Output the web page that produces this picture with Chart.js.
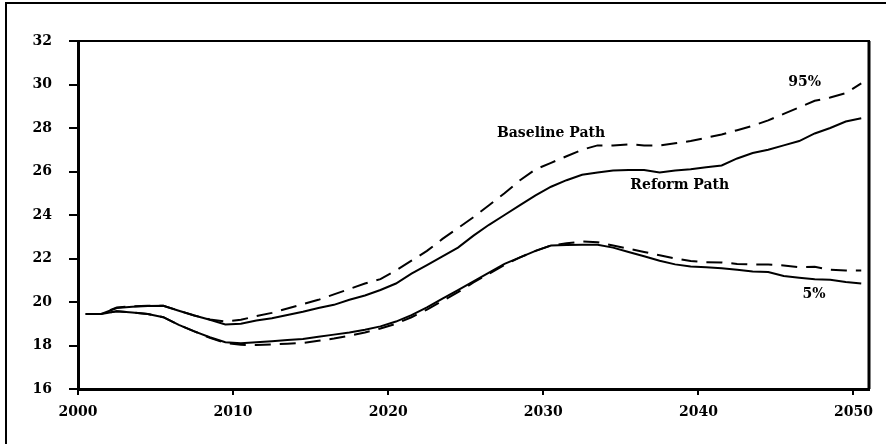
<!DOCTYPE html>
<html>
<head>
<meta charset="utf-8">
<title>Baseline and Reform Paths</title>
<script src="https://cdn.jsdelivr.net/npm/chart.js@4.4.0/dist/chart.umd.min.js"></script>
<style>
  html, body { margin: 0; padding: 0; background: #fff; }
  #wrap { width: 886px; height: 444px; position: relative; }
</style>
</head>
<body>
<div id="wrap"><canvas id="myChart"></canvas></div>
<script>
// Années (valeurs tracées en milieu d'année)
const years = [
  2000, 2001, 2002, 2003, 2004, 2005, 2006, 2007, 2008, 2009,
  2010, 2011, 2012, 2013, 2014, 2015, 2016, 2017, 2018, 2019,
  2020, 2021, 2022, 2023, 2024, 2025, 2026, 2027, 2028, 2029,
  2030, 2031, 2032, 2033, 2034, 2035, 2036, 2037, 2038, 2039,
  2040, 2041, 2042, 2043, 2044, 2045, 2046, 2047, 2048, 2049,
  2050
];

// Chemin de base, 95% (tirets, en haut)
const baseline95 = [
  19.45, 19.45, 19.75, 19.80, 19.83, 19.83, 19.60, 19.38, 19.20, 19.10,
  19.18, 19.35, 19.50, 19.70, 19.90, 20.10, 20.35, 20.60, 20.85, 21.05,
  21.45, 21.90, 22.35, 22.90, 23.40, 23.90, 24.45, 25.00, 25.60, 26.10,
  26.40, 26.70, 27.00, 27.20, 27.20, 27.25, 27.20, 27.20, 27.30, 27.40,
  27.55, 27.70, 27.90, 28.10, 28.35, 28.65, 28.95, 29.25, 29.40, 29.60,
  30.05
];

// Chemin de réforme, 95% (trait plein, en haut)
const reform95 = [
  19.45, 19.45, 19.72, 19.78, 19.82, 19.83, 19.60, 19.38, 19.18, 18.97,
  19.00, 19.15, 19.25, 19.40, 19.55, 19.72, 19.87, 20.10, 20.30, 20.55,
  20.85, 21.30, 21.70, 22.10, 22.50, 23.05, 23.55, 24.00, 24.45, 24.90,
  25.30, 25.60, 25.85, 25.95, 26.05, 26.07, 26.07, 25.95, 26.05, 26.10,
  26.20, 26.28, 26.60, 26.85, 27.00, 27.20, 27.40, 27.75, 28.00, 28.30,
  28.45
];

// Chemin de base, 5% (tirets, en bas)
const baseline5 = [
  19.45, 19.45, 19.57, 19.52, 19.45, 19.30, 18.95, 18.65, 18.35, 18.12,
  18.03, 18.02, 18.05, 18.08, 18.12, 18.22, 18.32, 18.45, 18.60, 18.78,
  19.00, 19.30, 19.65, 20.05, 20.45, 20.90, 21.30, 21.70, 22.05, 22.35,
  22.60, 22.70, 22.78, 22.75, 22.60, 22.45, 22.30, 22.15, 22.00, 21.88,
  21.83, 21.82, 21.75, 21.72, 21.72, 21.68, 21.60, 21.62, 21.48, 21.45,
  21.45
];

// Chemin de réforme, 5% (trait plein, en bas)
const reform5 = [
  19.45, 19.45, 19.57, 19.52, 19.45, 19.30, 18.95, 18.65, 18.38, 18.15,
  18.10, 18.15, 18.20, 18.25, 18.30, 18.40, 18.50, 18.60, 18.72, 18.88,
  19.10, 19.40, 19.75, 20.15, 20.55, 20.95, 21.35, 21.75, 22.05, 22.35,
  22.60, 22.62, 22.63, 22.63, 22.50, 22.30, 22.10, 21.90, 21.73, 21.63,
  21.60, 21.55, 21.48, 21.40, 21.38, 21.20, 21.12, 21.05, 21.02, 20.92,
  20.85
];

// Graduations
const xTicks = [2000, 2010, 2020, 2030, 2040, 2050];
const yTicks = [16, 18, 20, 22, 24, 26, 28, 30, 32];

// Étiquettes sur le graphique
const notes = [
  { text: 'Baseline Path', x: 2030.5, y: 27.6 },
  { text: 'Reform Path', x: 2038.8, y: 25.2 },
  { text: '95%', x: 2046.85, y: 29.93 },
  { text: '5%', x: 2047.45, y: 20.17 }
];

const midYear = 0.5;
const toPoints = (vals) => vals.map((v, i) => ({ x: years[i] + midYear, y: v }));

const FONT = { family: '"DejaVu Serif", "Liberation Serif", serif', size: 14, weight: 'bold' };

// Cadre du graphique et bordure extérieure
const framePlugin = {
  id: 'frame',
  afterDraw(chart) {
    const { ctx, chartArea: a } = chart;
    ctx.save();
    ctx.strokeStyle = '#000';
    ctx.lineWidth = 2;
    ctx.beginPath();
    ctx.moveTo(a.left, a.top);
    ctx.lineTo(a.right + 1, a.top);
    ctx.stroke();
    ctx.lineWidth = 3;
    ctx.beginPath();
    ctx.moveTo(a.right, a.top);
    ctx.lineTo(a.right, a.bottom);
    ctx.stroke();
    ctx.lineWidth = 2;
    ctx.strokeRect(6, 3, chart.width + 20, chart.height + 20);
    ctx.restore();
  }
};

// Texte des courbes
const notesPlugin = {
  id: 'notes',
  afterDatasetsDraw(chart) {
    const { ctx, scales } = chart;
    ctx.save();
    ctx.fillStyle = '#000';
    ctx.font = `${FONT.weight} ${FONT.size}px ${FONT.family}`;
    ctx.textAlign = 'center';
    ctx.textBaseline = 'alphabetic';
    notes.forEach(n => {
      ctx.fillText(n.text, scales.x.getPixelForValue(n.x), scales.y.getPixelForValue(n.y));
    });
    ctx.restore();
  }
};

const lineStyle = (dashed) => ({
  borderColor: '#000',
  borderWidth: 2,
  borderDash: dashed ? [16, 9] : [],
  pointRadius: 0,
  tension: 0,
  fill: false
});

const config = {
  type: 'line',
  data: {
    datasets: [
      { label: 'Baseline Path 95%', data: toPoints(baseline95), ...lineStyle(true) },
      { label: 'Reform Path 95%', data: toPoints(reform95), ...lineStyle(false) },
      { label: 'Baseline Path 5%', data: toPoints(baseline5), ...lineStyle(true) },
      { label: 'Reform Path 5%', data: toPoints(reform5), ...lineStyle(false) }
    ]
  },
  options: {
    responsive: true,
    maintainAspectRatio: false,
    animation: false,
    layout: { padding: { left: 0, top: 41, right: 17, bottom: 0 } },
    plugins: {
      legend: { display: false },
      title: { display: false },
      tooltip: { enabled: false }
    },
    scales: {
      x: {
        type: 'linear',
        min: 2000,
        max: 2051,
        afterBuildTicks: (s) => { s.ticks = xTicks.map(v => ({ value: v })); },
        afterFit: (s) => { s.height = 55; },
        border: { display: true, color: '#000', width: 3 },
        grid: { drawOnChartArea: false, drawTicks: true, tickLength: 6, color: '#000', lineWidth: 2 },
        ticks: {
          color: '#000',
          font: FONT,
          padding: 9,
          maxRotation: 0,
          callback: (v) => String(v)
        }
      },
      y: {
        min: 16,
        max: 32,
        afterBuildTicks: (s) => { s.ticks = yTicks.map(v => ({ value: v })); },
        afterFit: (s) => { s.width = 78; },
        border: { display: true, color: '#000', width: 3 },
        grid: { drawOnChartArea: false, drawTicks: true, tickLength: 9, color: '#000', lineWidth: 2 },
        ticks: {
          color: '#000',
          font: FONT,
          padding: 17,
          callback: (v) => String(v)
        }
      }
    }
  },
  plugins: [framePlugin, notesPlugin]
};

const ctx = document.getElementById('myChart').getContext('2d');
const myChart = new Chart(ctx, config);
</script>
</body>
</html>
